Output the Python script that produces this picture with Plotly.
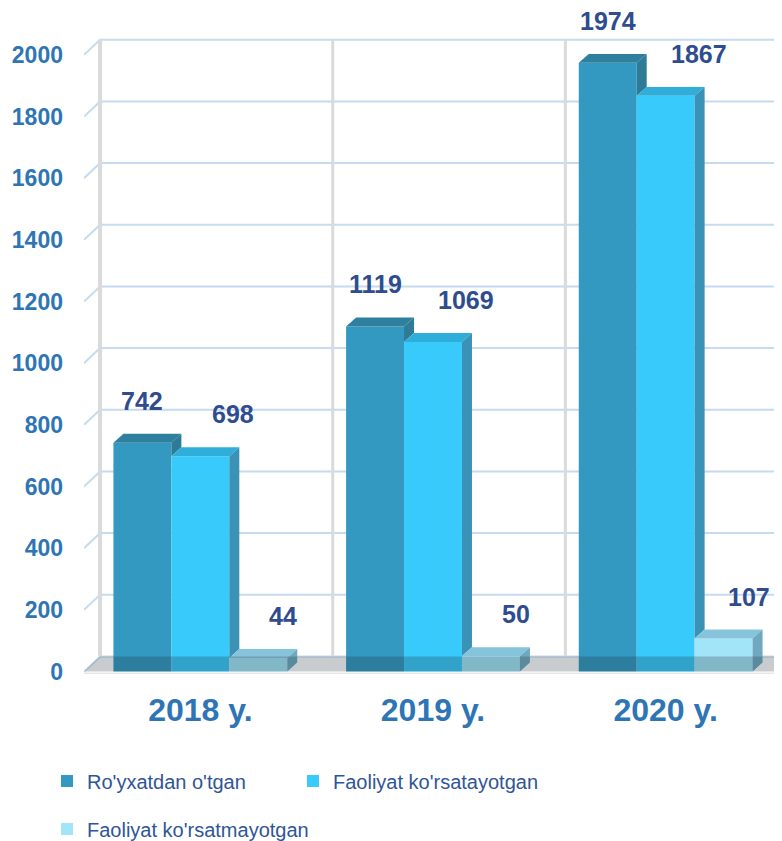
import plotly.graph_objects as go

years = ["2018 y.", "2019 y.", "2020 y."]
series_names = ["Ro'yxatdan o'tgan", "Faoliyat ko'rsatayotgan", "Faoliyat ko'rsatmayotgan"]
registered = [742, 1119, 1974]
active = [698, 1069, 1867]
inactive = [44, 50, 107]
y_ticks = [0, 200, 400, 600, 800, 1000, 1200, 1400, 1600, 1800, 2000]

series = [registered, active, inactive]
front = ["#3399C0", "#38CAFB", "#A2E4F8"]
top = ["#2F7F9E", "#30AEDA", "#86C4DB"]
side = ["#2E7B97", "#3A93B6", "#6EA9BF"]
label_dx = [0, 33, 25]
legend_ids = ["legend", "legend2", "legend3"]

FONT = "Arial, Liberation Sans, sans-serif"
W = 0.249          # bar width (category units)
BDX, BDY = 0.043, 29   # bar depth
WDX, WDY = 0.069, 49   # wall / floor depth

# the page body adds an 8px margin, so the figure is 8px smaller
FIG_W, FIG_H = 774, 833

x_pos = list(range(len(years)))


def poly(pts):
    return "M " + " L ".join(f"{px},{py}" for px, py in pts) + " Z"


fig = go.Figure()
shapes = []

# back wall grid
for t in y_ticks:
    shapes.append(dict(type="line", xref="x", yref="y", layer="below",
                       x0=-0.5 + WDX, x1=2.5, y0=t + WDY, y1=t + WDY,
                       line=dict(color="#C6DAF0", width=2)))
    shapes.append(dict(type="line", xref="x", yref="y", layer="below",
                       x0=-0.5, x1=-0.5 + WDX, y0=t, y1=t + WDY,
                       line=dict(color="#C6DAF0", width=2)))
for k in [-0.5, 0.5, 1.5]:
    shapes.append(dict(type="line", xref="x", yref="y", layer="below",
                       x0=k + WDX, x1=k + WDX, y0=WDY, y1=y_ticks[-1] + WDY,
                       line=dict(color="#DADADA", width=4 if k < 0 else 3)))

for i, vals in enumerate(series):
    off = -1.5 * W + i * W
    fig.add_trace(go.Bar(
        x=x_pos, y=vals, width=W, offset=off, name=series_names[i],
        marker=dict(color=front[i], line=dict(width=0)),
        legend=legend_ids[i],
        showlegend=True,
        hoverinfo="skip",
    ))
    for c, v in zip(x_pos, vals):
        x0 = c + off
        x1 = x0 + W
        shapes.append(dict(type="path", xref="x", yref="y", layer="above",
                           path=poly([(x0, v), (x0 + BDX, v + BDY), (x1 + BDX, v + BDY), (x1, v)]),
                           fillcolor=top[i], line=dict(width=0)))
        base = series[i + 1][c] if i + 1 < len(series) else 0
        shapes.append(dict(type="path", xref="x", yref="y", layer="above",
                           path=poly([(x1, base), (x1, v), (x1 + BDX, v + BDY), (x1 + BDX, base + BDY)]),
                           fillcolor=side[i], line=dict(width=0)))
        fig.add_annotation(x=(x0 + x1) / 2, y=v, text=str(v), showarrow=False,
                           xshift=label_dx[i], yshift=42,
                           font=dict(family=FONT, size=25, color="#2E4C8E", weight="bold"))

# floor plate (darkened band)
shapes.append(dict(type="path", xref="x", yref="y", layer="above",
                   path=poly([(-0.5, 0), (-0.5 + WDX, WDY), (2.5, WDY), (2.5, 0)]),
                   fillcolor="rgba(30,40,50,0.24)", line=dict(width=0)))
shapes.append(dict(type="line", xref="x", yref="y", layer="above",
                   x0=-0.5, x1=2.5, y0=-6, y1=-6,
                   line=dict(color="#E6E6E6", width=2)))

legend_style = dict(
    orientation="h",
    xref="container", yref="container",
    xanchor="left", yanchor="middle",
    font=dict(family=FONT, size=20, color="#2F5597"),
    bgcolor="rgba(0,0,0,0)",
)

fig.update_layout(
    width=FIG_W,
    height=FIG_H,
    barmode="overlay",
    showlegend=True,
    plot_bgcolor="white",
    paper_bgcolor="white",
    margin=dict(l=76, r=0, t=16, b=167),
    shapes=shapes,
    xaxis=dict(
        range=[-0.5, 2.5],
        tickvals=x_pos,
        ticktext=years,
        showgrid=False,
        zeroline=False,
        showline=False,
        ticks="",
        automargin=False,
        ticklabelstandoff=14,
        tickfont=dict(family=FONT, size=32, color="#2E75B6", weight="bold"),
    ),
    yaxis=dict(
        range=[-8, 2100],
        tickvals=y_ticks,
        showgrid=False,
        zeroline=False,
        showline=False,
        ticks="",
        automargin=False,
        ticklabelstandoff=20,
        tickfont=dict(family=FONT, size=23, color="#2E75B6", weight="bold"),
    ),
    legend=dict(legend_style, x=39 / FIG_W, y=1 - 773 / FIG_H),
    legend2=dict(legend_style, x=285 / FIG_W, y=1 - 773 / FIG_H),
    legend3=dict(legend_style, x=39 / FIG_W, y=1 - 821 / FIG_H),
)

fig.write_html("out.html")
